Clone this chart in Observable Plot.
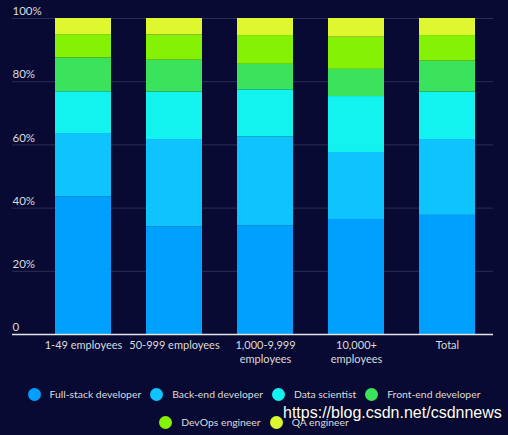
<!DOCTYPE html>
<html>
<head>
<meta charset="utf-8">
<script src="https://cdn.jsdelivr.net/npm/d3@7"></script>
<script src="https://cdn.jsdelivr.net/npm/@observablehq/plot@0.6"></script>
<style>
  body { margin: 0; background: #080a33; font-family: Lato, sans-serif; }
  #wrap { position: relative; width: 508px; height: 435px; overflow: hidden; }
  .legend { display: flex; flex-wrap: wrap; justify-content: center; width: 496px; margin: 16px 0 0 6px; row-gap: 12px; column-gap: 9px; }
  .item { display: flex; align-items: center; height: 16px; font-size: 10.4px; color: #dcdcdc; white-space: nowrap; }
  .dot { width: 13px; height: 13px; border-radius: 50%; margin-right: 9px; flex: none; }
  .mark { position: absolute; left: 283px; top: 404px; font-family: "Liberation Sans", Arial, sans-serif; font-size: 16px; color: #fff; text-shadow: 0 0 2px #000; white-space: nowrap; }
</style>
</head>
<body>
<div id="wrap">
  <div id="chart"></div>
  <div class="legend" id="legend"></div>
  <div class="mark">https://blog.csdn.net/csdnnews</div>
</div>
<script>
const categories = ['1-49 employees', '50-999 employees', '1,000-9,999 employees', '10,000+ employees', 'Total']
const tickLabels = ['1-49 employees', '50-999 employees', '1,000-9,999\nemployees', '10,000+\nemployees', 'Total']
const roles = ['Full-stack developer', 'Back-end developer', 'Data scientist', 'Front-end developer', 'DevOps engineer', 'QA engineer']
const colors = ['#00a1fe', '#0fc3ff', '#12f3f0', '#3be35c', '#85f205', '#dff72e']

// share of respondents (%) per company size, bottom to top
const fullStack = [43.5, 34.0, 34.3, 36.4, 37.7]
const backEnd = [20.1, 27.7, 28.2, 21.2, 24.0]
const dataScientist = [13.2, 15.0, 14.9, 17.7, 15.0]
const frontEnd = [10.7, 10.1, 8.1, 8.6, 9.8]
const devOps = [7.4, 8.0, 9.1, 10.2, 8.1]
const qa = [5.1, 5.2, 5.4, 5.9, 5.4]
const yTicks = [0, 20, 40, 60, 80, 100]

const series = [fullStack, backEnd, dataScientist, frontEnd, devOps, qa]
const rows = roles.flatMap((role, i) => categories.map((category, j) => ({ category, role, value: series[i][j] })))

const chart = Plot.plot({
  width: 508,
  height: 370,
  marginLeft: 12,
  marginRight: 15,
  marginTop: 18,
  marginBottom: 36,
  style: { background: 'transparent', color: '#dcdcdc', fontFamily: 'Lato, sans-serif', fontSize: '11px' },
  x: { domain: categories, paddingInner: 0.386, paddingOuter: 0.193, insetLeft: 24, label: null },
  y: { domain: [0, 100], label: null },
  color: { domain: roles, range: colors },
  marks: [
    Plot.gridY(yTicks.filter(d => d > 0), { stroke: '#2c2e55', strokeOpacity: 1 }),
    Plot.barY(rows, { x: 'category', y: 'value', fill: 'role' }),
    Plot.ruleY([0], { stroke: '#e6e6e6', strokeWidth: 1.5 }),
    Plot.axisY(yTicks, { tickSize: 0, tickPadding: 0, textAnchor: 'start', dy: -7, fill: '#dcdcdc', fontSize: 11.5, tickFormat: d => d === 0 ? '0' : d + '%' }),
    Plot.axisX({ tickSize: 0, tickPadding: 5, lineHeight: 1.25, fill: '#dcdcdc', tickFormat: d => tickLabels[categories.indexOf(d)] }),
  ],
})
d3.select('#chart').append(() => chart)

const legend = d3.select('#legend')
roles.forEach((role, i) => {
  const item = legend.append('div').attr('class', 'item')
  item.append('div').attr('class', 'dot').style('background', colors[i])
  item.append('span').text(role)
})
</script>
</body>
</html>
